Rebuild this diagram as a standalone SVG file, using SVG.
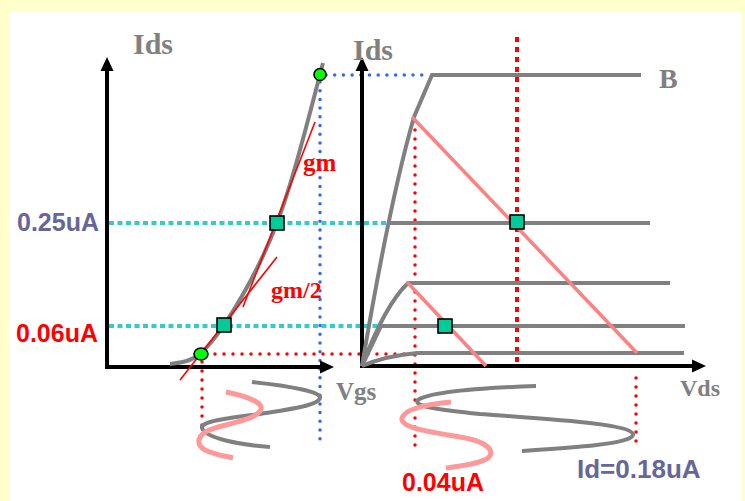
<svg xmlns="http://www.w3.org/2000/svg" width="745" height="501" viewBox="0 0 745 501">
<defs>
<style>
.ax{stroke:#000;stroke-width:4;fill:none}
.ah{fill:#000}
.gr{stroke:#808080;stroke-width:4;fill:none;stroke-linecap:butt}
.pk{stroke:#FF8080;stroke-width:3.5;fill:none}
.pkw{stroke:#FF9999;stroke-width:5;fill:none}
.rd{stroke:#FF0000;stroke-width:3.5;fill:none;stroke-linecap:round;stroke-dasharray:0 9}
.rsq{stroke:#FF0000;stroke-width:4;fill:none;stroke-dasharray:5 5}
.bl{stroke:#3366FF;stroke-width:3.5;fill:none;stroke-linecap:round;stroke-dasharray:0 8.7}
.cy{stroke:#33CCCC;stroke-width:4;fill:none;stroke-dasharray:5 3.5}
.tan{stroke:#FF0000;stroke-width:1.6;fill:none}
.sq{fill:#00CC99;stroke:#000;stroke-width:1.6}
.el{fill:#00FF00;stroke:#000;stroke-width:1.6}
.ser{font-family:"Liberation Serif","Times New Roman",serif;font-weight:bold}
.san{font-family:"Liberation Sans",Arial,sans-serif;font-weight:bold}
</style>
</defs>
<rect x="0" y="0" width="745" height="501" fill="#FFFFCC"/>
<rect x="9" y="11" width="733" height="490" fill="#FFFFFF"/>

<g id="guides">
<path class="cy" d="M109,223 H428"/>
<path class="cy" d="M109,326 H387"/>
<path class="bl" d="M326,75 H430"/>
<path class="bl" d="M320,82 V445"/>
<path class="rd" d="M215,354 H417"/>
<path class="rd" d="M202,362 V428"/>
<path class="rd" d="M415,121 V449"/>
<path class="rd" d="M636,378 V450"/>
<path class="rsq" d="M517,37 V367"/>
</g>

<g id="axes">
<path class="ax" d="M107,68 V367 H322"/>
<path class="ah" d="M107,57 L100.5,71 L113.5,71 Z"/>
<path class="ah" d="M334,367 L320,360.5 L320,373.5 Z"/>
<path class="ax" d="M362,68 V366 H694"/>
<path class="ah" d="M362,57 L355.5,71 L368.5,71 Z"/>
<path class="ah" d="M706,366 L692,359.5 L692,372.5 Z"/>
</g>

<g id="transfer-curve">
<path class="gr" d="M170,364 C180,362.5 191,362 201,353 C208.7,346.1 216.3,336.5 224,325 C241.7,298.5 259.3,269 277,223 C292.3,183.1 307.7,121.3 323,63"/>
<path class="tan" d="M180,380 L277,257"/>
<path class="tan" d="M243,307 L315,122"/>
</g>

<g id="output-curves">
<path class="gr" d="M362,366 Q390,200 414,117 L432,75 H641"/>
<path class="gr" d="M387,223 H650"/>
<path class="gr" d="M362,366 Q385,305 408,283 H670"/>
<path class="gr" d="M362,366 L381,326"/>
<path class="gr" d="M380,326 H685"/>
<path class="gr" d="M362,366 Q385,356 417,353 H684"/>
<path class="pk" d="M412,117 L637,353"/>
<path class="pk" d="M407,282 L486,366"/>
</g>

<g id="waves">
<path class="gr" d="M252,382 C290,386 322,392 320,398 C318,406 285,410 260,414 C225,418 200,422 202,428 C205,438 240,445 270,447"/>
<path class="pkw" d="M226,392 C255,398 265,405 260,411 C254,420 230,423 215,428 C195,434 196,445 205,450 C215,455 225,456 233,458"/>
<path class="gr" d="M536,386 C480,388 430,392 418,400 C412,406 440,410 480,414 C560,420 630,424 633,434 C635,444 570,448 522,451"/>
<path class="pkw" d="M451,402 C430,404 405,408 402,418 C400,428 430,432 460,437 C490,442 495,452 488,458 C480,464 460,466 446,468"/>
</g>

<g id="points">
<ellipse class="el" cx="320" cy="74.5" rx="6" ry="6"/>
<ellipse class="el" cx="201" cy="354" rx="7" ry="6"/>
<rect class="sq" x="217" y="318" width="14" height="14"/>
<rect class="sq" x="270" y="216" width="14" height="14"/>
<rect class="sq" x="510" y="215" width="14" height="14"/>
<rect class="sq" x="438" y="319" width="14" height="14"/>
</g>

<g id="labels">
<text class="ser" x="133" y="54" font-size="30" fill="#808080">Ids</text>
<text class="ser" x="353" y="60" font-size="30" fill="#808080">Ids</text>
<text class="ser" x="659" y="88" font-size="28" fill="#808080">B</text>
<text class="ser" x="336" y="400" font-size="25" fill="#808080">Vgs</text>
<text class="ser" x="680" y="396" font-size="24" fill="#808080">Vds</text>
<text class="ser" x="303" y="171" font-size="25" fill="#FF0000">gm</text>
<text class="ser" x="271" y="298" font-size="24" fill="#FF0000">gm/2</text>
<text class="san" x="17" y="231" font-size="25" fill="#666699">0.25uA</text>
<text class="san" x="16" y="342" font-size="25" fill="#FF0000">0.06uA</text>
<text class="san" x="402" y="491" font-size="25" fill="#FF0000">0.04uA</text>
<text class="san" x="577" y="478" font-size="26" fill="#666699">Id=0.18uA</text>
</g>
</svg>
